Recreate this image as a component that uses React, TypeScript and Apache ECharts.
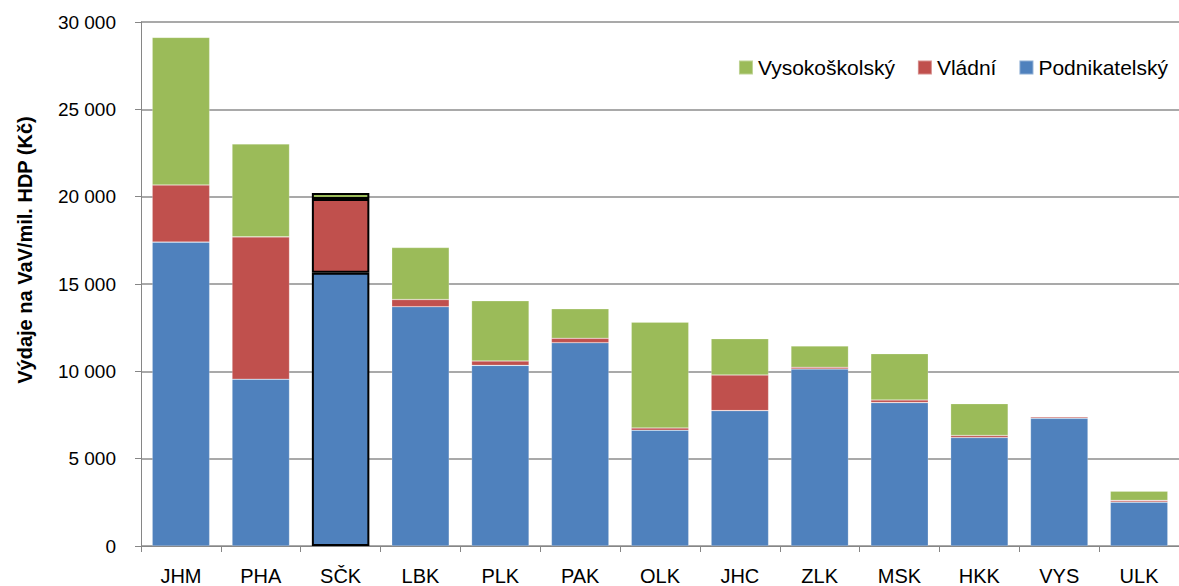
import React, { useEffect, useRef } from "react";
import * as echarts from "echarts";

const categories = ["JHM", "PHA", "SČK", "LBK", "PLK", "PAK", "OLK", "JHC", "ZLK", "MSK", "HKK", "VYS", "ULK"];
const podnikatelsky = [17400, 9550, 15650, 13700, 10340, 11640, 6630, 7750, 10130, 8210, 6210, 7310, 2510];
const vladni = [3270, 8150, 4220, 410, 250, 250, 130, 2040, 100, 150, 120, 80, 100];
const vysokoskolsky = [8450, 5320, 340, 2980, 3450, 1690, 6060, 2080, 1220, 2650, 1820, 30, 530];
const highlighted = "SČK";
const yTitle = "Výdaje na VaV/mil. HDP (Kč)";

const FONT = "Liberation Sans";

function fmt(v: number): string {
  return String(v).replace(/\B(?=(\d{3})+(?!\d))/g, " ");
}

function mkData(vals: number[]) {
  return vals.map((v, i) =>
    categories[i] === highlighted
      ? { value: v, itemStyle: { borderColor: "#000", borderWidth: 2 } }
      : v
  );
}

export default function App() {
  const ref = useRef<HTMLDivElement>(null);
  useEffect(() => {
    if (!ref.current) return;
    const chart = echarts.init(ref.current, undefined, { renderer: "svg" });
    const baseItem = (color: string) => ({
      color,
      borderColor: "rgba(255,255,255,0.35)",
      borderWidth: 0.6,
    });
    chart.setOption({
      animation: false,
      textStyle: { fontFamily: FONT },
      grid: { left: 141, right: 0, top: 22, bottom: 39, containLabel: false },
      legend: {
        right: 6,
        top: 52,
        itemWidth: 14,
        itemHeight: 14,
        itemGap: 22,
        icon: "rect",
        textStyle: { fontFamily: FONT, fontSize: 21, color: "#000" },
        data: ["Vysokoškolský", "Vládní", "Podnikatelský"],
      },
      graphic: [
        {
          type: "text",
          x: 25,
          y: 250,
          rotation: Math.PI / 2,
          style: {
            text: yTitle,
            fontFamily: FONT,
            fontSize: 20,
            fontWeight: "bold",
            fill: "#000",
            textAlign: "center",
            textVerticalAlign: "middle",
          },
        },
      ],
      xAxis: {
        type: "category",
        data: categories,
        axisLine: { lineStyle: { color: "#868686", width: 1 } },
        axisTick: { show: true, length: 6, lineStyle: { color: "#868686" } },
        axisLabel: { fontFamily: FONT, fontSize: 20, color: "#000", margin: 20 },
      },
      yAxis: {
        type: "value",
        min: 0,
        max: 30000,
        interval: 5000,
        axisLine: { show: true, lineStyle: { color: "#868686", width: 1 } },
        axisTick: { show: true, length: 6, lineStyle: { color: "#868686" } },
        splitLine: { lineStyle: { color: "#8c8c8c", width: 1.5 } },
        axisLabel: {
          fontFamily: FONT,
          fontSize: 19,
          color: "#000",
          margin: 25,
          formatter: (v: number) => fmt(v),
        },
      },
      series: [
        {
          name: "Podnikatelský",
          type: "bar",
          stack: "total",
          barCategoryGap: "28%",
          itemStyle: baseItem("#4F81BD"),
          data: mkData(podnikatelsky),
        },
        {
          name: "Vládní",
          type: "bar",
          stack: "total",
          itemStyle: baseItem("#C0504D"),
          data: mkData(vladni),
        },
        {
          name: "Vysokoškolský",
          type: "bar",
          stack: "total",
          itemStyle: baseItem("#9BBB59"),
          data: mkData(vysokoskolsky),
        },
      ],
    });
    return () => chart.dispose();
  }, []);
  return (
    <div
      ref={ref}
      style={{ position: "fixed", left: 0, top: 0, width: 1179, height: 586, background: "#fff" }}
    />
  );
}
